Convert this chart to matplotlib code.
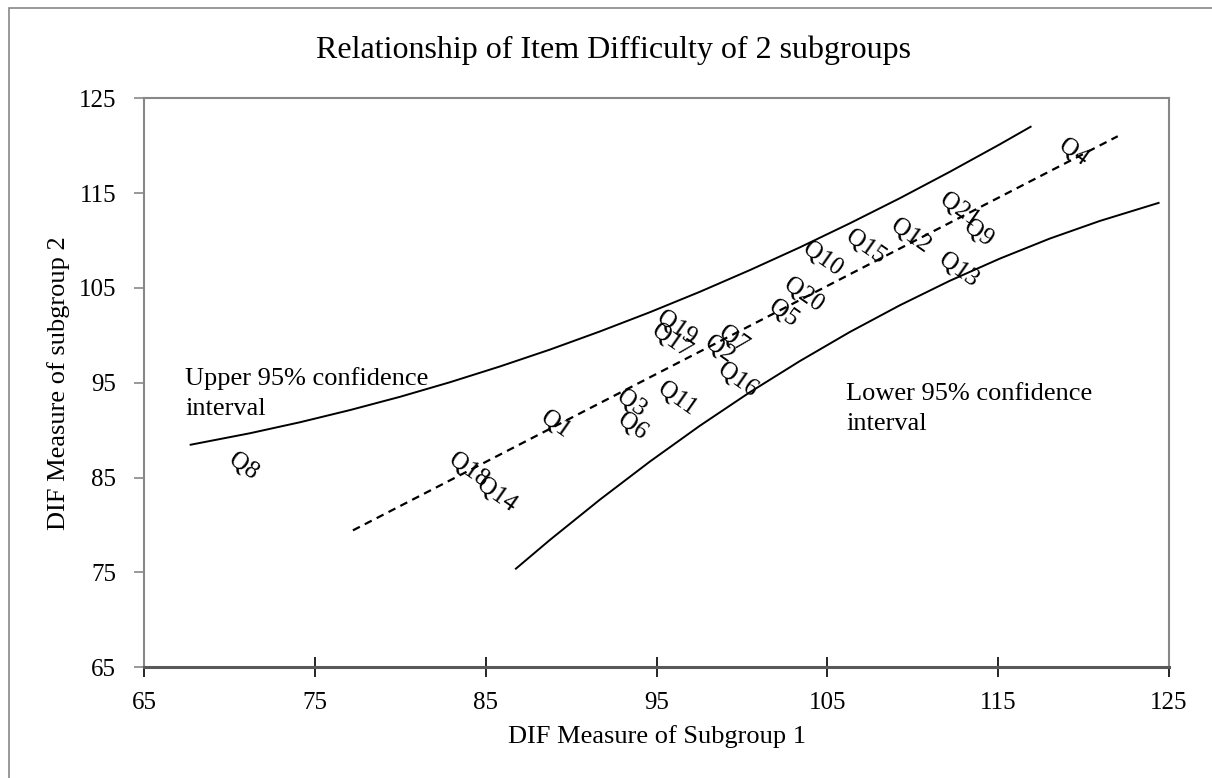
import matplotlib
matplotlib.use("Agg")
import matplotlib.pyplot as plt
from matplotlib.patches import Rectangle

plt.rcParams['font.family'] = ['Liberation Serif', 'DejaVu Serif']

# item labels and their DIF measures (subgroup 1, subgroup 2)
items = ['Q1', 'Q2', 'Q3', 'Q4', 'Q5', 'Q6', 'Q7', 'Q8', 'Q9', 'Q10', 'Q11',
         'Q12', 'Q13', 'Q14', 'Q15', 'Q16', 'Q17', 'Q18', 'Q19', 'Q20', 'Q21']
sub1 = [89.05, 98.70, 93.54, 119.4, 102.41, 93.57, 99.52, 70.81, 113.82, 104.69, 96.21,
        109.86, 112.65, 85.64, 107.23, 99.72, 95.87, 83.98, 96.17, 103.62, 112.75]
sub2 = [90.57, 98.48, 92.79, 119.3, 102.27, 90.40, 99.60, 86.18, 110.78, 108.07, 93.31,
        110.50, 106.83, 83.20, 109.30, 95.24, 99.35, 85.83, 100.76, 104.27, 113.23]

# fitted line and 95% confidence bands
fit_x = [77.23, 122.0]
fit_y = [79.44, 121.0]
upper_x = [67.73, 71.20, 74.13, 77.05, 79.98, 82.91, 85.83, 88.76, 91.68, 94.61,
           97.53, 100.46, 103.39, 106.31, 109.24, 112.16, 115.09, 116.90]
upper_y = [88.47, 89.68, 90.84, 92.12, 93.52, 95.06, 96.72, 98.50, 100.41, 102.44,
           104.59, 106.88, 109.28, 111.81, 114.46, 117.24, 120.14, 122.00]
lower_x = [86.77, 88.76, 91.68, 94.61, 97.53, 100.46, 103.39, 106.31, 109.24, 112.16,
           115.09, 118.01, 120.94, 124.39]
lower_y = [75.40, 78.43, 82.67, 86.69, 90.46, 94.00, 97.29, 100.35, 103.17, 105.75,
           108.09, 110.20, 112.06, 113.97]

ticks = [65, 75, 85, 95, 105, 115, 125]

fig = plt.figure(figsize=(12.12, 7.78), dpi=100)
ax = fig.add_axes([144 / 1212, 1 - 667.3 / 778, (1169 - 144) / 1212, (667.3 - 98.3) / 778])

# outer chart border (only left/top visible in the crop)
fig.patches.append(Rectangle((9 / 1212, -0.5), 2, 1 - 7.7 / 778 + 0.5, transform=fig.transFigure,
                             fill=False, edgecolor='#878787', linewidth=1.2))

ax.plot(fit_x, fit_y, color='black', linestyle=(0, (3.5, 2.5)), linewidth=1.6)
ax.plot(upper_x, upper_y, color='black', linewidth=1.4)
ax.plot(lower_x, lower_y, color='black', linewidth=1.4)

for name, x, y in zip(items, sub1, sub2):
    ax.text(x, y, name, fontsize=18, rotation=-35, rotation_mode='anchor',
            ha='center', va='center')

ax.text(67.4, 91.6, 'Upper 95% confidence\ninterval', fontsize=19, va='baseline', ha='left',
        linespacing=1.46)
ax.text(106.1, 90.05, 'Lower 95% confidence\ninterval', fontsize=19, va='baseline', ha='left',
        linespacing=1.46)

ax.set_xlim(65, 125)
ax.set_ylim(65, 125)
ax.set_xticks(ticks)
ax.set_yticks(ticks)
ax.tick_params(axis='y', direction='out', length=7, width=1.2, color='#878787',
               labelsize=18, pad=13)
ax.tick_params(axis='x', direction='inout', length=14, width=1.2, color='black',
               labelsize=18, pad=11)

for side in ['left', 'top', 'right']:
    ax.spines[side].set_color('#878787')
    ax.spines[side].set_linewidth(1.5)
ax.spines['bottom'].set_color('#595959')
ax.spines['bottom'].set_linewidth(2.2)

ax.set_xlabel('DIF Measure of Subgroup 1', fontsize=19)
ax.xaxis.set_label_coords(0.5, -0.101)
ax.set_ylabel('DIF Measure of subgroup 2', fontsize=19)
ax.yaxis.set_label_coords(-0.072, 0.5)

fig.text(614 / 1212, 1 - 50 / 778, 'Relationship of Item Difficulty of 2 subgroups',
         fontsize=23, ha='center', va='center')

fig.savefig('out.png', dpi=100)
